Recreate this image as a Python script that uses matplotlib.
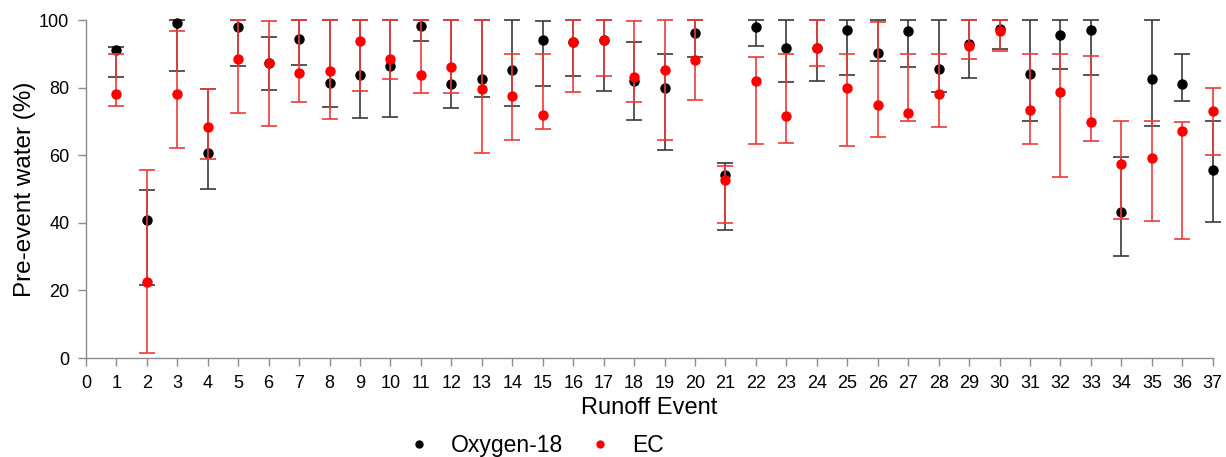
import numpy as np
import matplotlib
matplotlib.use('Agg')
import matplotlib.pyplot as plt
from matplotlib.lines import Line2D

plt.rcParams['font.family'] = ['Liberation Sans', 'DejaVu Sans']

# Runoff events
eventos = np.arange(1, 38)

# Oxygen-18: valor, limite inferior, limite superior
o18 = [91.1, 40.9, 99.0, 60.6, 97.8, 87.4, 94.3, 81.5, 83.7, 86.4,
       98.2, 81.2, 82.6, 85.3, 94.1, 93.4, 94.2, 81.9, 80.0, 96.3,
       54.1, 97.8, 91.6, 91.8, 97.0, 90.3, 96.7, 85.6, 92.8, 97.4,
       84.0, 95.6, 96.9, 43.3, 82.5, 81.0, 55.7]
o18_lo = [83.2, 21.5, 84.9, 50.1, 86.4, 79.4, 86.7, 74.3, 70.9, 71.4,
          93.8, 74.1, 77.3, 74.6, 80.4, 83.3, 79.0, 70.4, 61.5, 89.2,
          37.9, 92.4, 81.6, 81.9, 83.6, 88.0, 86.0, 78.7, 82.8, 91.3,
          70.2, 85.4, 83.7, 30.2, 68.5, 75.9, 40.2]
o18_hi = [92.1, 49.8, 100, 79.6, 100, 95.0, 100, 100, 100, 100,
          100, 100, 100, 100, 99.8, 100, 100, 93.6, 90.0, 100,
          57.6, 100, 100, 100, 100, 100, 100, 100, 100, 100,
          100, 100, 100, 59.4, 100, 90.0, 70.0]

# EC: valor, limite inferior, limite superior
ec = [78.0, 22.4, 78.2, 68.3, 88.5, 87.4, 84.3, 85.0, 93.9, 88.4,
      83.6, 86.0, 79.6, 77.4, 71.9, 93.6, 94.2, 83.1, 85.3, 88.3,
      52.8, 81.9, 71.7, 91.8, 79.9, 74.8, 72.6, 78.2, 92.3, 96.7,
      73.4, 78.6, 69.7, 57.5, 59.2, 67.1, 73.2]
ec_lo = [74.7, 1.5, 62.1, 58.8, 72.4, 68.6, 75.8, 70.8, 79.0, 82.6,
         78.5, 78.3, 60.8, 64.5, 67.8, 78.7, 83.3, 75.6, 64.5, 76.2,
         39.8, 63.3, 63.7, 86.5, 62.8, 65.5, 70.0, 68.2, 88.4, 90.8,
         63.3, 53.7, 64.3, 41.2, 40.4, 35.2, 60.2]
ec_hi = [90.0, 55.5, 96.7, 79.6, 100, 99.8, 100, 100, 100, 100,
         100, 100, 100, 90.0, 90.0, 100, 100, 99.8, 100, 100,
         56.8, 89.2, 90.0, 100, 90.0, 99.4, 89.9, 90.0, 100, 100,
         90.0, 90.0, 89.4, 70.0, 70.0, 69.8, 79.9]

o18 = np.array(o18)
ec = np.array(ec)
yerr_o18 = [o18 - np.array(o18_lo), np.array(o18_hi) - o18]
yerr_ec = [ec - np.array(ec_lo), np.array(ec_hi) - ec]

fig = plt.figure(figsize=(12.26, 4.57), dpi=100)
ax = fig.add_axes([0.0701, 0.2166, 0.9191, 0.7396])

ax.errorbar(eventos, o18, yerr=yerr_o18, fmt='o', color='black', ecolor='#3a3a3a',
            markersize=6.5, elinewidth=1.2, capsize=6, capthick=1.2, clip_on=False, zorder=3)
ax.errorbar(eventos, ec, yerr=yerr_ec, fmt='o', color='#ff0000', ecolor='#f03a3a',
            markersize=6.5, elinewidth=1.2, capsize=6, capthick=1.2, clip_on=False, zorder=4)

ax.set_xlim(0, 37)
ax.set_ylim(0, 100)
ax.set_xticks(range(0, 38))
ax.set_yticks(range(0, 101, 20))

for lado in ['top', 'right']:
    ax.spines[lado].set_visible(False)
for lado in ['left', 'bottom']:
    ax.spines[lado].set_color('#8c8c8c')
    ax.spines[lado].set_linewidth(1.0)
ax.tick_params(axis='both', direction='out', length=6, width=1.0, color='#8c8c8c',
               labelsize=13, pad=6)

ax.set_xlabel('Runoff Event', fontsize=17, labelpad=4)
ax.set_ylabel('Pre-event water (%)', fontsize=17.5, labelpad=2)

handles = [Line2D([], [], marker='o', color='black', linestyle='none', markersize=5),
           Line2D([], [], marker='o', color='#ff0000', linestyle='none', markersize=5)]
fig.legend(handles, ['Oxygen-18', 'EC'], loc='center left', bbox_to_anchor=(0.306, 0.025),
           ncol=2, frameon=False, fontsize=16.5, handletextpad=0.4, columnspacing=0.6)

fig.savefig('out.png', dpi=100)
